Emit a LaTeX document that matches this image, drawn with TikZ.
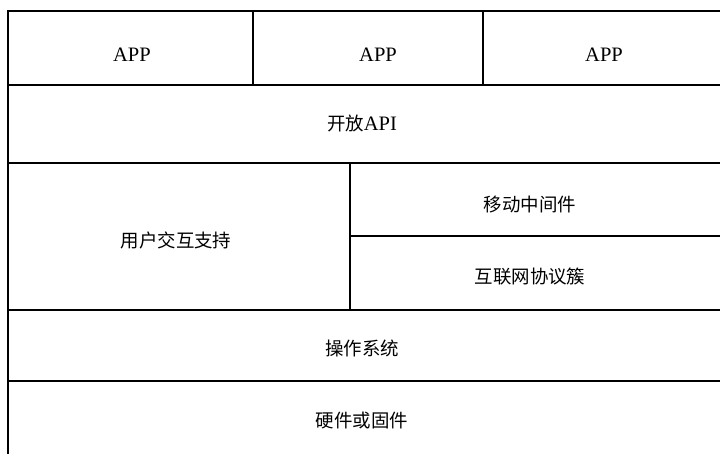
\documentclass[tikz,border=0pt]{standalone}
\usepackage{fontspec}
\setmainfont{Liberation Serif}
\newfontfamily\cjk[Scale=0.9]{Noto Sans CJK SC}
\begin{document}
\begin{tikzpicture}[x=1pt,y=-1pt,
  rule/.style={line width=2pt,line cap=rect},
  lbl/.style={font=\fontsize{20.5}{24}\selectfont,inner sep=0pt}]
\useasboundingbox (0,0) rectangle (720,454);
% frame lines
\draw[rule] (7.5,454) -- (7.5,11) -- (720,11);
\draw[rule] (7.5,85) -- (720,85);
\draw[rule] (7.5,163) -- (720,163);
\draw[rule] (7.5,310) -- (720,310);
\draw[rule] (7.5,381) -- (720,381);
\draw[rule] (252.5,11) -- (252.5,85);
\draw[rule] (483,11) -- (483,85);
\draw[rule] (350,163) -- (350,310);
\draw[rule] (350,236) -- (720,236);
% labels
\node[lbl] (app1) at (132,55) {APP};
\node[lbl] (app2) at (378,55) {APP};
\node[lbl] (app3) at (604,55) {APP};
\node[lbl] (api) at (362,124) {{\cjk 开放}API};
\node[lbl] (ui) at (176,240) {\cjk 用户交互支持};
\node[lbl] (mid) at (530,205) {\cjk 移动中间件};
\node[lbl] (net) at (530,277) {\cjk 互联网协议簇};
\node[lbl] (os) at (362,348) {\cjk 操作系统};
\node[lbl] (hw) at (362,421) {\cjk 硬件或固件};
\end{tikzpicture}
\end{document}
